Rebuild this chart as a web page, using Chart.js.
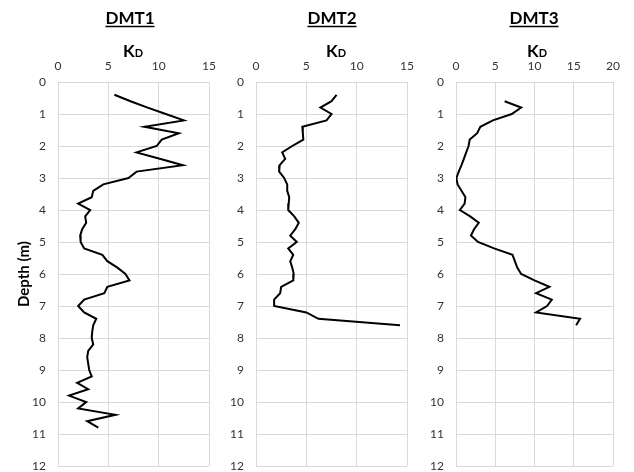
<!DOCTYPE html>
<html>
<head>
<meta charset="utf-8">
<script src="https://cdn.jsdelivr.net/npm/chart.js@4.4.0/dist/chart.umd.min.js"></script>
<style>
  html, body { margin:0; background:#fff; overflow:hidden; }
  .panel { position:absolute; top:0; }
</style>
</head>
<body>
<div class="panel" style="left:0px"><canvas id="c1" width="226" height="472"></canvas></div>
<div class="panel" style="left:226px"><canvas id="c2" width="198" height="472"></canvas></div>
<div class="panel" style="left:424px"><canvas id="c3" width="210" height="472"></canvas></div>
<script>
// titles and axes
const titles = ["DMT1", "DMT2", "DMT3"];
const xMax = [15, 15, 20];
const xStep = 5;
const depthMax = 12;

// DMT1
const depth1 = [0.4,0.6,0.8,1.0,1.2,1.4,1.6,1.8,2.0,2.2,2.4,2.6,2.8,3.0,3.2,3.4,3.6,3.8,4.0,4.2,4.4,4.6,4.8,5.0,5.2,5.4,5.6,5.8,6.0,6.2,6.4,6.6,6.8,7.0,7.2,7.4,7.6,7.8,8.0,8.2,8.4,8.6,8.8,9.0,9.2,9.4,9.6,9.8,10.0,10.2,10.4,10.6,10.8];
const kd1 = [5.6,7.2,8.9,10.7,12.5,8.6,12.0,10.3,9.8,7.8,10.1,12.4,7.8,7.0,4.5,3.5,3.35,2.0,3.2,2.7,2.8,2.4,2.2,2.25,2.6,4.4,4.9,5.9,6.7,7.1,4.9,4.6,2.6,2.0,2.6,3.8,3.5,3.4,3.35,3.5,3.0,2.9,3.0,3.1,3.35,1.9,3.0,1.1,2.8,2.0,5.7,2.9,4.0];

// DMT2
const depth2 = [0.4,0.6,0.8,1.0,1.2,1.4,1.6,1.8,2.0,2.2,2.4,2.6,2.8,3.0,3.2,3.4,3.6,3.8,4.0,4.2,4.4,4.6,4.8,5.0,5.2,5.4,5.6,5.8,6.0,6.2,6.4,6.6,6.8,7.0,7.2,7.4,7.6];
const kd2 = [8.0,7.5,6.4,7.5,7.0,4.6,4.65,4.7,3.6,2.6,2.9,2.35,2.3,2.8,3.1,3.1,3.3,3.25,3.2,3.8,4.25,3.9,3.4,4.05,3.2,3.7,3.4,3.6,3.75,3.7,2.5,2.4,1.8,1.8,5.0,6.2,14.3];

// DMT3
const depth3 = [0.6,0.8,1.0,1.2,1.4,1.6,1.8,2.0,2.2,2.4,2.6,2.8,3.0,3.2,3.4,3.6,3.8,4.0,4.2,4.4,4.6,4.8,5.0,5.2,5.4,5.6,5.8,6.0,6.2,6.4,6.6,6.8,7.0,7.2,7.4,7.6];
const kd3 = [6.2,8.3,7.1,4.7,3.1,2.7,1.75,1.6,1.3,1.0,0.7,0.35,0.05,0.2,0.7,1.2,1.1,0.5,1.8,2.9,2.3,1.9,2.8,4.85,7.2,7.5,7.8,8.3,10.0,11.9,10.2,12.2,11.6,10.2,15.8,15.3];

const FONT = "Lato, 'Open Sans', sans-serif";
const gridCol = "#d9d9d9";

// per-panel layout (canvas-local pixels)
const panels = [
  { id:"c1", depth:depth1, kd:kd1, yWidth:58, padRight:10, titleX:130, kdX:133, depthTitle:true },
  { id:"c2", depth:depth2, kd:kd2, yWidth:30, padRight:11, titleX:106, kdX:110, depthTitle:false },
  { id:"c3", depth:depth3, kd:kd3, yWidth:32, padRight:21, titleX:110, kdX:113, depthTitle:false }
];

// draws DMTx underlined and the K_D axis title
const headerPlugin = {
  id: "header",
  afterDraw(chart, args, opts) {
    const ctx = chart.ctx;
    ctx.save();
    ctx.fillStyle = "#000";
    ctx.strokeStyle = "#000";
    ctx.font = "bold 17px " + FONT;
    ctx.textAlign = "center";
    ctx.textBaseline = "alphabetic";
    ctx.fillText(opts.title, opts.titleX, 24);
    const w = ctx.measureText(opts.title).width;
    ctx.lineWidth = 1.3;
    ctx.beginPath();
    ctx.moveTo(opts.titleX - w/2, 26.5);
    ctx.lineTo(opts.titleX + w/2, 26.5);
    ctx.stroke();

    // K with small D
    ctx.textAlign = "left";
    ctx.font = "bold 17px " + FONT;
    const wk = ctx.measureText("K").width;
    ctx.font = "bold 11px " + FONT;
    const wd = ctx.measureText("D").width;
    const x0 = opts.kdX - (wk + wd)/2;
    ctx.font = "bold 17px " + FONT;
    ctx.fillText("K", x0, 57);
    ctx.font = "bold 11px " + FONT;
    ctx.fillText("D", x0 + wk, 57);
    ctx.restore();
  }
};

panels.forEach((p, i) => {
  const ctx = document.getElementById(p.id).getContext('2d');
  new Chart(ctx, {
    type: 'scatter',
    data: {
      datasets: [{
        data: p.depth.map((d, j) => ({ x: p.kd[j], y: d })),
        showLine: true,
        borderColor: '#000',
        borderWidth: 2,
        pointRadius: 0,
        tension: 0
      }]
    },
    options: {
      responsive: false,
      animation: false,
      devicePixelRatio: 1,
      layout: { padding: { top: 58, left: 0, right: p.padRight, bottom: 6 } },
      plugins: {
        legend: { display: false },
        tooltip: { enabled: false },
        header: { title: titles[i], titleX: p.titleX, kdX: p.kdX }
      },
      scales: {
        x: {
          type: 'linear',
          position: 'top',
          min: 0, max: xMax[i],
          ticks: { stepSize: xStep, padding: 10, color: '#333', font: { family: FONT, size: 12, lineHeight: 1 } },
          grid: { color: gridCol, drawTicks: false },
          border: { color: gridCol },
          afterFit: s => { s.height = 24; }
        },
        y: {
          type: 'linear',
          reverse: true,
          min: 0, max: depthMax,
          ticks: { stepSize: 1, padding: 12, color: '#333', font: { family: FONT, size: 12, lineHeight: 1 } },
          grid: { color: gridCol, drawTicks: false },
          border: { color: gridCol },
          title: {
            display: p.depthTitle,
            text: 'Depth (m)',
            color: '#000',
            font: { family: FONT, size: 15, weight: 'bold' },
            padding: { top: 15, bottom: 0 }
          },
          afterFit: s => { s.width = p.yWidth; s.paddingTop = 0; s.paddingBottom = 0; }
        }
      }
    },
    plugins: [headerPlugin]
  });
});
</script>
</body>
</html>
